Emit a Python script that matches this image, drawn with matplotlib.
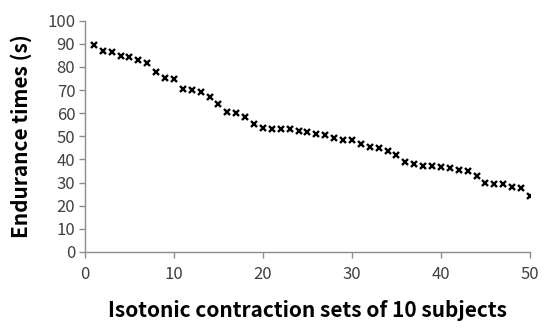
import matplotlib
matplotlib.use("Agg")
import matplotlib.pyplot as plt

# Endurance times, one per contraction set
sets = list(range(1, 51))
endurance = [89.3, 87.1, 86.6, 84.7, 84.4, 82.9, 81.9, 77.7, 75.1, 74.6,
             70.6, 69.9, 69.3, 67.2, 63.8, 60.4, 60.2, 58.2, 55.5, 53.5,
             53.3, 53.2, 53.0, 52.3, 52.0, 51.0, 50.8, 49.2, 48.4, 48.4,
             46.7, 45.5, 45.1, 43.7, 41.9, 39.0, 38.0, 37.3, 37.0, 36.9,
             36.3, 35.6, 35.2, 32.7, 29.9, 29.5, 29.3, 28.0, 27.5, 24.4]
x_ticks = [0, 10, 20, 30, 40, 50]
y_ticks = list(range(0, 101, 10))

plt.rcParams['font.family'] = ['Noto Sans CJK SC', 'DejaVu Sans']

fig = plt.figure(figsize=(5.5, 3.32), dpi=100)
ax = fig.add_axes([0.1545, 0.241, 0.809, 0.6965])

ax.plot(sets, endurance, linestyle='none', marker='x', color='black',
        markersize=4.8, markeredgewidth=1.7)

ax.set_xlim(0, 50)
ax.set_ylim(0, 100)
ax.set_xticks(x_ticks)
ax.set_yticks(y_ticks)

axis_grey = '#8c8c8c'
for side in ['top', 'right']:
    ax.spines[side].set_visible(False)
for side in ['left', 'bottom']:
    ax.spines[side].set_color(axis_grey)
    ax.spines[side].set_linewidth(1.0)
ax.tick_params(axis='both', direction='out', length=4, width=1.0, color=axis_grey,
               labelsize=12, labelcolor='#404040')
ax.tick_params(axis='x', pad=6)
ax.tick_params(axis='y', pad=3)

ax.set_xlabel('Isotonic contraction sets of 10 subjects', fontsize=15,
              fontweight='bold', labelpad=12)
ax.set_ylabel('Endurance times (s)', fontsize=15, fontweight='bold', labelpad=11)

fig.savefig('out.png', dpi=100)
